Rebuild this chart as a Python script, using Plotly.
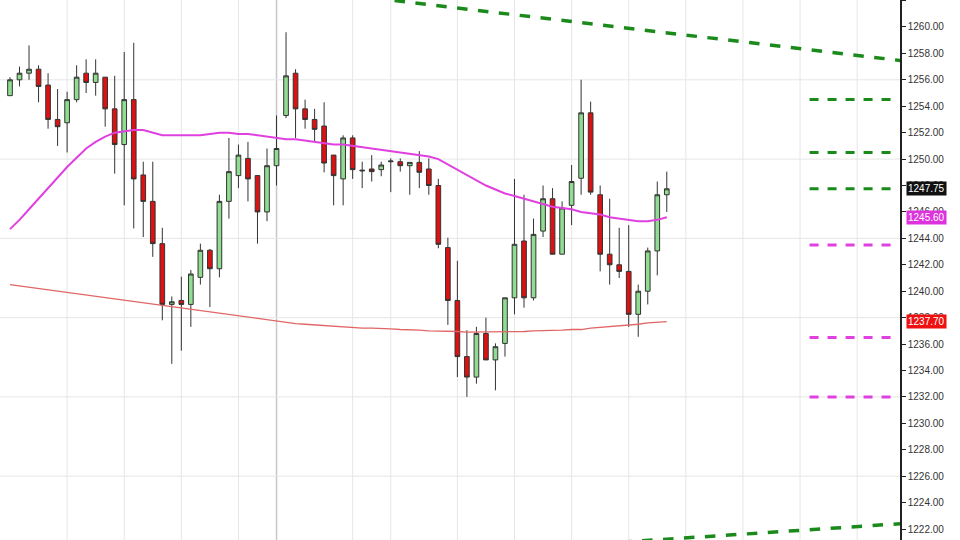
import plotly.graph_objects as go

opens = [1254.8,1256.0,1256.5,1256.8,1255.6,1253.0,1252.75,1254.5,1256.5,1255.8,1256.2,1253.8,1251.1,1254.5,1248.8,1246.8,1243.6,1239.0,1239.3,1239.0,
         1241.05,1243.1,1241.7,1246.8,1248.75,1250.05,1248.75,1246.0,1249.5,1253.3,1256.5,1253.8,1253.0,1252.5,1250.3,1248.5,1251.6,1249.1,1249.25,1249.2,
         1249.8,1249.8,1249.5,1249.75,1249.25,1248.0,1243.3,1239.3,1235.05,1233.5,1236.8,1234.8,1236.05,1239.5,1243.8,1239.5,1244.55,1247.0,1242.8,1246.5,
         1248.55,1253.5,1247.3,1242.8,1242.0,1241.5,1238.25,1240.0,1243.05,1247.3]
closes = [1256.0,1256.5,1256.8,1255.5,1253.0,1252.45,1254.5,1256.2,1255.8,1256.5,1253.8,1251.1,1254.5,1248.5,1246.8,1243.6,1239.0,1239.2,1239.0,1241.3,
          1243.1,1241.7,1246.8,1249.05,1250.3,1248.5,1246.0,1249.5,1250.8,1256.3,1253.8,1253.0,1252.25,1249.7,1248.75,1251.6,1249.2,1249.15,1249.05,1249.55,
          1249.85,1249.5,1249.75,1249.0,1248.0,1243.55,1239.3,1235.05,1233.5,1236.8,1234.8,1235.8,1239.5,1243.55,1239.5,1244.3,1247.0,1242.8,1246.3,1248.3,
          1253.5,1247.5,1242.8,1242.0,1241.5,1238.25,1240.0,1243.05,1247.3,1247.75]
highs = [1256.2,1257.0,1258.6,1257.1,1256.5,1255.3,1255.1,1257.1,1257.55,1257.55,1256.2,1256.3,1258.1,1258.8,1249.8,1249.8,1244.8,1239.6,1241.1,1241.6,
         1243.6,1243.2,1247.3,1251.6,1251.1,1251.3,1248.75,1250.8,1253.3,1259.6,1256.8,1254.5,1253.8,1254.3,1250.3,1251.8,1251.8,1249.8,1250.3,1249.8,
         1250.05,1250.05,1249.75,1250.6,1250.05,1248.5,1244.05,1242.3,1237.05,1237.3,1238.0,1236.05,1239.5,1248.5,1247.3,1245.5,1248.0,1247.8,1246.8,1249.55,
         1256.0,1254.35,1248.0,1247.0,1244.8,1245.0,1240.5,1243.3,1248.3,1249.05]
lows = [1254.8,1255.5,1256.0,1254.3,1252.3,1251.0,1250.5,1254.3,1255.0,1254.8,1252.45,1248.9,1246.5,1244.75,1244.1,1242.6,1237.8,1234.5,1235.5,1237.3,
        1240.5,1238.8,1241.05,1245.5,1247.8,1246.8,1243.6,1245.3,1248.0,1253.1,1251.6,1252.3,1251.3,1249.0,1246.5,1246.5,1248.5,1247.8,1248.3,1248.7,
        1247.5,1249.05,1247.3,1247.8,1247.3,1243.25,1237.45,1233.5,1232.0,1233.0,1234.8,1232.5,1235.05,1238.25,1238.75,1239.3,1244.1,1242.8,1242.8,1245.0,
        1247.3,1247.3,1241.5,1240.5,1241.0,1237.3,1236.55,1239.0,1241.2,1246.0]
ma_fast = [1244.7,1245.4,1246.2,1247.0,1247.8,1248.6,1249.4,1250.1,1250.8,1251.3,1251.7,1252.0,1252.1,1252.2,1252.2,1252.0,1251.8,1251.8,1251.8,1251.8,
           1251.8,1251.9,1252.0,1252.0,1251.9,1251.9,1251.8,1251.7,1251.6,1251.5,1251.5,1251.4,1251.3,1251.2,1251.1,1251.1,1251.0,1250.9,1250.8,1250.7,
           1250.6,1250.5,1250.4,1250.3,1250.2,1250.0,1249.6,1249.2,1248.8,1248.4,1248.0,1247.7,1247.4,1247.2,1247.0,1246.8,1246.6,1246.4,1246.3,1246.2,
           1246.0,1245.9,1245.8,1245.6,1245.5,1245.4,1245.3,1245.3,1245.4,1245.6]
ma_slow = [1240.5,1240.4,1240.3,1240.2,1240.1,1240.0,1239.9,1239.8,1239.7,1239.6,1239.5,1239.4,1239.3,1239.2,1239.1,1239.0,1238.9,1238.8,1238.7,1238.6,
           1238.5,1238.4,1238.3,1238.2,1238.1,1238.0,1237.9,1237.8,1237.7,1237.6,1237.55,1237.5,1237.45,1237.35,1237.3,1237.3,1237.25,1237.2,1237.2,1237.2,
           1237.15,1237.1,1237.1,1237.05,1237.0,1237.0,1236.95,1236.95,1236.9,1236.9,1236.9,1236.9,1236.9,1236.95,1236.95,1237.0,1237.0,1237.05,1237.05,1237.1,
           1237.1,1237.2,1237.25,1237.3,1237.4,1237.45,1237.5,1237.6,1237.65,1237.7]
green_levels = [1254.5, 1250.5, 1247.75]
magenta_levels = [1243.5, 1236.5, 1232.0]
upper_trend = [(40.4, 1262.0), (96.6, 1257.2)]
lower_trend = [(62.0, 1220.9), (93.5, 1222.4)]
grid_x = [6, 12, 18, 24, 36, 40, 47, 53, 59, 65, 71, 77, 83, 89]
grid_y = [1226, 1232, 1238, 1244, 1250, 1256]
session_x = 28
yticks = list(range(1222, 1263, 2))

idx = list(range(len(opens)))
fig = go.Figure()
for gx in grid_x:
    fig.add_shape(type="line", x0=gx, x1=gx, y0=1200, y1=1300, line=dict(color="#e6e6e6", width=1), layer="below")
fig.add_shape(type="line", x0=session_x, x1=session_x, y0=1200, y1=1300, line=dict(color="#c8c8c8", width=1.5), layer="below")
for gy in grid_y:
    fig.add_shape(type="line", x0=-5, x1=95, y0=gy, y1=gy, line=dict(color="#e6e6e6", width=1), layer="below")

fig.add_trace(go.Scatter(x=idx, y=ma_slow, mode="lines", line=dict(color="#e06666", width=1.3), hoverinfo="skip"))
fig.add_trace(go.Scatter(x=idx, y=ma_fast, mode="lines", line=dict(color="#e040e0", width=2), hoverinfo="skip"))
fig.add_trace(go.Candlestick(x=idx, open=opens, high=highs, low=lows, close=closes,
    increasing=dict(fillcolor="#90dc90", line=dict(color="#333333", width=1)),
    decreasing=dict(fillcolor="#dd1111", line=dict(color="#333333", width=1)),
    whiskerwidth=0))
for (x0, y0), (x1, y1) in [upper_trend, lower_trend]:
    fig.add_trace(go.Scatter(x=[x0, x1], y=[y0, y1], mode="lines", line=dict(color="#1a8a1a", width=3.5, dash="dash")))
for lv in green_levels:
    fig.add_trace(go.Scatter(x=[84, 93.2], y=[lv, lv], mode="lines", line=dict(color="#1a8a1a", width=3, dash="dash")))
for lv in magenta_levels:
    fig.add_trace(go.Scatter(x=[84, 93.2], y=[lv, lv], mode="lines", line=dict(color="#e040e0", width=3, dash="dash")))

for val, col in [(closes[-1], "#111111"), (ma_fast[-1], "#dd33dd"), (ma_slow[-1], "#ee1111")]:
    fig.add_annotation(x=1.0, xref="paper", xanchor="left", y=val, yref="y", text=f"{val:.2f}",
                       showarrow=False, bgcolor=col, font=dict(color="white", size=10, family="Liberation Sans"),
                       borderpad=1, xshift=6)

fig.update_layout(width=960, height=540, margin=dict(l=0, r=60, t=0, b=0), showlegend=False,
                  paper_bgcolor="white", plot_bgcolor="white")
fig.update_xaxes(range=[-1.05, 93.5], showgrid=False, zeroline=False, showticklabels=False, rangeslider_visible=False, fixedrange=True)
fig.update_yaxes(range=[1221.17, 1262.04], side="right", tickvals=yticks, ticktext=[f"{v:.2f}" for v in yticks],
                 showgrid=False, zeroline=False, showline=True, linecolor="#222222", linewidth=1.5, ticks="outside",
                 ticklen=4, tickcolor="#222222", tickfont=dict(size=10, color="#333333", family="Liberation Sans"))
fig.write_html("out.html", config={"displayModeBar": False},
               post_script="document.body.style.margin='0';document.body.style.overflow='hidden';")
